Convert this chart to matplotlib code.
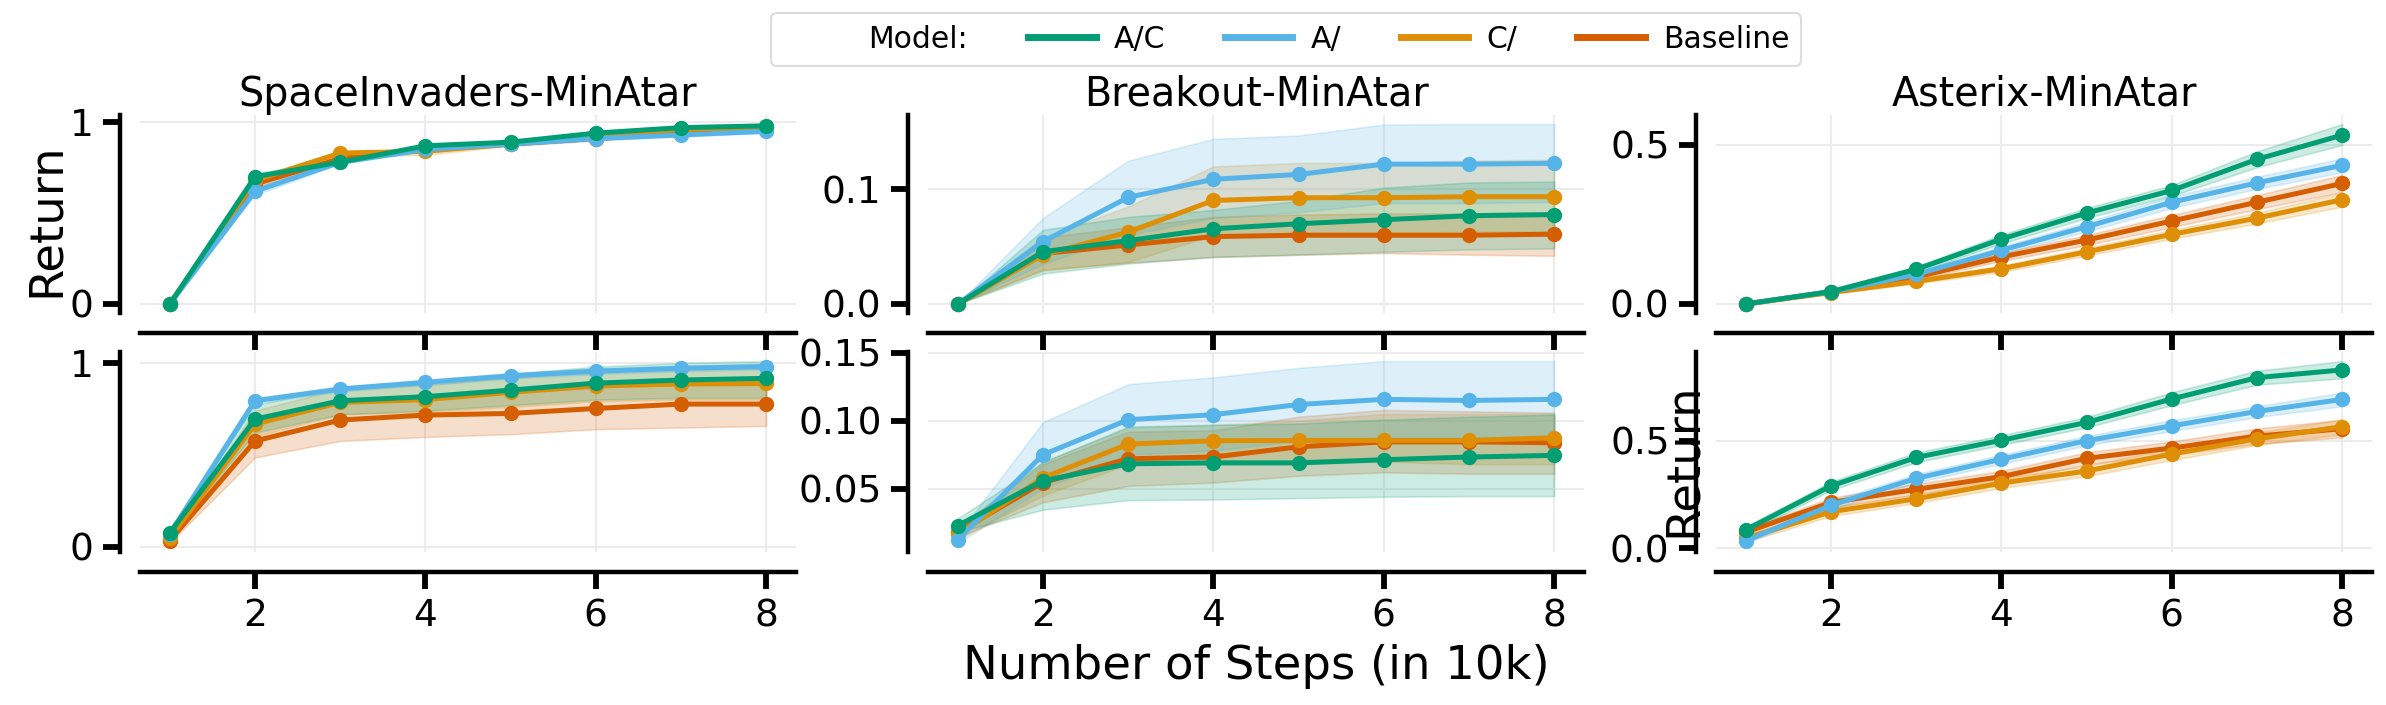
import matplotlib
matplotlib.use("Agg")
import matplotlib.pyplot as plt
from matplotlib.lines import Line2D

# ----------------------------------------------------------------------
# data
# ----------------------------------------------------------------------
STEPS = [1, 2, 3, 4, 5, 6, 7, 8]
MODELS = ["A/C", "A/", "C/", "Baseline"]
COLORS = ["#029e73", "#56b4e9", "#de8f05", "#d55e00"]
GAMES = ["SpaceInvaders-MinAtar", "Breakout-MinAtar", "Asterix-MinAtar"]

# SpaceInvaders, top row
si_top_ac    = [0.0, 0.70, 0.78, 0.87, 0.89, 0.94, 0.97, 0.98]
si_top_ac_lo = [0.0, 0.68, 0.77, 0.86, 0.88, 0.93, 0.96, 0.97]
si_top_ac_hi = [0.0, 0.72, 0.79, 0.88, 0.90, 0.95, 0.98, 0.99]
si_top_a     = [0.0, 0.62, 0.78, 0.85, 0.88, 0.91, 0.93, 0.95]
si_top_a_lo  = [0.0, 0.60, 0.77, 0.84, 0.87, 0.90, 0.92, 0.94]
si_top_a_hi  = [0.0, 0.64, 0.80, 0.86, 0.89, 0.92, 0.94, 0.96]
si_top_c     = [0.0, 0.68, 0.83, 0.84, 0.88, 0.93, 0.96, 0.97]
si_top_c_lo  = [0.0, 0.66, 0.81, 0.82, 0.87, 0.92, 0.95, 0.96]
si_top_c_hi  = [0.0, 0.70, 0.84, 0.85, 0.89, 0.94, 0.97, 0.98]
si_top_b     = [0.0, 0.66, 0.80, 0.85, 0.88, 0.91, 0.94, 0.96]
si_top_b_lo  = [0.0, 0.64, 0.79, 0.84, 0.87, 0.90, 0.93, 0.95]
si_top_b_hi  = [0.0, 0.68, 0.81, 0.86, 0.89, 0.92, 0.95, 0.97]

# SpaceInvaders, bottom row
si_bot_ac    = [0.075, 0.694, 0.794, 0.816, 0.852, 0.890, 0.907, 0.916]
si_bot_ac_lo = [0.060, 0.620, 0.720, 0.740, 0.770, 0.800, 0.810, 0.810]
si_bot_ac_hi = [0.090, 0.770, 0.870, 0.900, 0.940, 0.980, 1.000, 1.010]
si_bot_a     = [0.070, 0.794, 0.858, 0.894, 0.930, 0.955, 0.971, 0.980]
si_bot_a_lo  = [0.060, 0.780, 0.845, 0.880, 0.915, 0.940, 0.955, 0.965]
si_bot_a_hi  = [0.080, 0.810, 0.870, 0.910, 0.945, 0.970, 0.985, 0.995]
si_bot_c     = [0.047, 0.667, 0.785, 0.800, 0.840, 0.875, 0.885, 0.888]
si_bot_c_lo  = [0.030, 0.600, 0.720, 0.730, 0.760, 0.790, 0.800, 0.800]
si_bot_c_hi  = [0.060, 0.740, 0.860, 0.880, 0.920, 0.960, 0.970, 0.980]
si_bot_b     = [0.033, 0.575, 0.689, 0.716, 0.725, 0.752, 0.776, 0.776]
si_bot_b_lo  = [0.020, 0.485, 0.575, 0.597, 0.612, 0.639, 0.648, 0.657]
si_bot_b_hi  = [0.050, 0.665, 0.800, 0.830, 0.840, 0.865, 0.895, 0.895]

# Breakout, top row
br_top_ac    = [0.0, 0.0456, 0.0553, 0.0656, 0.0700, 0.0735, 0.0770, 0.0780]
br_top_ac_lo = [0.0, 0.0265, 0.0353, 0.0410, 0.0430, 0.0455, 0.0476, 0.0485]
br_top_ac_hi = [0.0, 0.0647, 0.0760, 0.0820, 0.0900, 0.1015, 0.1060, 0.1068]
br_top_a     = [0.0, 0.0544, 0.0930, 0.1088, 0.1130, 0.1220, 0.1220, 0.1227]
br_top_a_lo  = [0.0, 0.0350, 0.0600, 0.0750, 0.0800, 0.0880, 0.0880, 0.0890]
br_top_a_hi  = [0.0, 0.0750, 0.1250, 0.1440, 0.1470, 0.1565, 0.1570, 0.1570]
br_top_c     = [0.0, 0.0430, 0.0627, 0.0903, 0.0927, 0.0927, 0.0936, 0.0936]
br_top_c_lo  = [0.0, 0.0290, 0.0367, 0.0600, 0.0620, 0.0620, 0.0630, 0.0630]
br_top_c_hi  = [0.0, 0.0580, 0.0850, 0.1200, 0.1230, 0.1230, 0.1250, 0.1260]
br_top_b     = [0.0, 0.0440, 0.0515, 0.0588, 0.0600, 0.0600, 0.0600, 0.0609]
br_top_b_lo  = [0.0, 0.0300, 0.0360, 0.0410, 0.0430, 0.0444, 0.0430, 0.0420]
br_top_b_hi  = [0.0, 0.0580, 0.0670, 0.0760, 0.0780, 0.0790, 0.0790, 0.0800]

# Breakout, bottom row
br_bot_ac    = [0.0228, 0.0558, 0.0683, 0.0690, 0.0690, 0.0713, 0.0733, 0.0745]
br_bot_ac_lo = [0.0180, 0.0345, 0.0415, 0.0420, 0.0430, 0.0440, 0.0445, 0.0445]
br_bot_ac_hi = [0.0280, 0.0695, 0.0958, 0.0970, 0.0980, 0.1008, 0.1030, 0.1045]
br_bot_a     = [0.0125, 0.0750, 0.1008, 0.1045, 0.1120, 0.1158, 0.1150, 0.1158]
br_bot_a_lo  = [0.0100, 0.0500, 0.0750, 0.0780, 0.0850, 0.0880, 0.0880, 0.0880]
br_bot_a_hi  = [0.0160, 0.0990, 0.1270, 0.1320, 0.1390, 0.1440, 0.1440, 0.1440]
br_bot_c     = [0.0165, 0.0580, 0.0828, 0.0853, 0.0855, 0.0855, 0.0855, 0.0875]
br_bot_c_lo  = [0.0130, 0.0450, 0.0680, 0.0680, 0.0680, 0.0700, 0.0680, 0.0680]
br_bot_c_hi  = [0.0200, 0.0700, 0.0950, 0.0970, 0.1000, 0.1050, 0.1050, 0.1050]
br_bot_b     = [0.0180, 0.0545, 0.0720, 0.0733, 0.0808, 0.0845, 0.0845, 0.0838]
br_bot_b_lo  = [0.0140, 0.0400, 0.0520, 0.0545, 0.0595, 0.0620, 0.0610, 0.0610]
br_bot_b_hi  = [0.0220, 0.0680, 0.0920, 0.0930, 0.1030, 0.1080, 0.1070, 0.1060]

# Asterix, top row
as_top_ac    = [0.0, 0.039, 0.109, 0.204, 0.286, 0.357, 0.455, 0.531]
as_top_ac_lo = [0.0, 0.034, 0.100, 0.190, 0.270, 0.340, 0.430, 0.500]
as_top_ac_hi = [0.0, 0.044, 0.118, 0.218, 0.302, 0.374, 0.480, 0.566]
as_top_a     = [0.0, 0.039, 0.093, 0.169, 0.243, 0.320, 0.381, 0.436]
as_top_a_lo  = [0.0, 0.035, 0.085, 0.158, 0.228, 0.302, 0.362, 0.414]
as_top_a_hi  = [0.0, 0.043, 0.101, 0.180, 0.258, 0.338, 0.400, 0.458]
as_top_c     = [0.0, 0.036, 0.071, 0.111, 0.164, 0.219, 0.270, 0.328]
as_top_c_lo  = [0.0, 0.032, 0.064, 0.101, 0.152, 0.205, 0.253, 0.306]
as_top_c_hi  = [0.0, 0.040, 0.078, 0.121, 0.176, 0.233, 0.287, 0.350]
as_top_b     = [0.0, 0.039, 0.085, 0.148, 0.201, 0.261, 0.320, 0.379]
as_top_b_lo  = [0.0, 0.035, 0.077, 0.135, 0.185, 0.242, 0.298, 0.352]
as_top_b_hi  = [0.0, 0.043, 0.093, 0.161, 0.217, 0.280, 0.342, 0.406]

# Asterix, bottom row
as_bot_ac    = [0.086, 0.290, 0.422, 0.502, 0.585, 0.694, 0.793, 0.829]
as_bot_ac_lo = [0.070, 0.270, 0.400, 0.480, 0.562, 0.665, 0.760, 0.790]
as_bot_ac_hi = [0.100, 0.310, 0.445, 0.525, 0.610, 0.725, 0.825, 0.870]
as_bot_a     = [0.035, 0.200, 0.325, 0.414, 0.500, 0.569, 0.636, 0.692]
as_bot_a_lo  = [0.025, 0.180, 0.305, 0.393, 0.478, 0.545, 0.610, 0.660]
as_bot_a_hi  = [0.045, 0.220, 0.345, 0.435, 0.522, 0.595, 0.660, 0.724]
as_bot_c     = [0.046, 0.170, 0.230, 0.303, 0.359, 0.438, 0.509, 0.565]
as_bot_c_lo  = [0.030, 0.150, 0.210, 0.280, 0.335, 0.410, 0.480, 0.530]
as_bot_c_hi  = [0.060, 0.190, 0.250, 0.326, 0.383, 0.466, 0.538, 0.600]
as_bot_b     = [0.075, 0.213, 0.274, 0.333, 0.418, 0.466, 0.521, 0.556]
as_bot_b_lo  = [0.060, 0.190, 0.250, 0.305, 0.390, 0.435, 0.485, 0.515]
as_bot_b_hi  = [0.090, 0.235, 0.300, 0.360, 0.446, 0.497, 0.557, 0.597]

# panel -> per-model (mean, lo, hi), models in MODELS order
PANELS = [
    [
        [(si_top_ac, si_top_ac_lo, si_top_ac_hi), (si_top_a, si_top_a_lo, si_top_a_hi),
         (si_top_c, si_top_c_lo, si_top_c_hi), (si_top_b, si_top_b_lo, si_top_b_hi)],
        [(br_top_ac, br_top_ac_lo, br_top_ac_hi), (br_top_a, br_top_a_lo, br_top_a_hi),
         (br_top_c, br_top_c_lo, br_top_c_hi), (br_top_b, br_top_b_lo, br_top_b_hi)],
        [(as_top_ac, as_top_ac_lo, as_top_ac_hi), (as_top_a, as_top_a_lo, as_top_a_hi),
         (as_top_c, as_top_c_lo, as_top_c_hi), (as_top_b, as_top_b_lo, as_top_b_hi)],
    ],
    [
        [(si_bot_ac, si_bot_ac_lo, si_bot_ac_hi), (si_bot_a, si_bot_a_lo, si_bot_a_hi),
         (si_bot_c, si_bot_c_lo, si_bot_c_hi), (si_bot_b, si_bot_b_lo, si_bot_b_hi)],
        [(br_bot_ac, br_bot_ac_lo, br_bot_ac_hi), (br_bot_a, br_bot_a_lo, br_bot_a_hi),
         (br_bot_c, br_bot_c_lo, br_bot_c_hi), (br_bot_b, br_bot_b_lo, br_bot_b_hi)],
        [(as_bot_ac, as_bot_ac_lo, as_bot_ac_hi), (as_bot_a, as_bot_a_lo, as_bot_a_hi),
         (as_bot_c, as_bot_c_lo, as_bot_c_hi), (as_bot_b, as_bot_b_lo, as_bot_b_hi)],
    ],
]

XTICKS = [2, 4, 6, 8]
YTICKS = [
    [[0, 1], [0.0, 0.1], [0.0, 0.5]],
    [[0, 1], [0.05, 0.10, 0.15], [0.0, 0.5]],
]

# ----------------------------------------------------------------------
# style
# ----------------------------------------------------------------------
plt.rcParams["font.family"] = ["DejaVu Sans"]

W, H, DPI = 2386, 705, 100
TICK_FS = 27
TITLE_FS = 28.5
LABEL_FS = 33.5
LEGEND_FS = 21.5

fig = plt.figure(figsize=(W / DPI, H / DPI), dpi=DPI)

col_left = [140, 928, 1716]
ax_w = 656
row_box = [(115, 313), (352, 552)]  # (top, bottom) in pixels from the top

draw_order = [3, 2, 1, 0]  # Baseline underneath, A/C on top

axes = []
for r in range(2):
    row_axes = []
    for c in range(3):
        top, bot = row_box[r]
        ax = fig.add_axes([col_left[c] / W, 1 - bot / H, ax_w / W, (bot - top) / H])
        for m in draw_order:
            mean, lo, hi = PANELS[r][c][m]
            ax.fill_between(STEPS, lo, hi, color=COLORS[m], alpha=0.2, lw=1.2)
            ax.plot(STEPS, mean, color=COLORS[m], lw=3.6, marker="o", ms=10,
                    solid_capstyle="round")
        ax.set_xticks(XTICKS)
        ax.set_yticks(YTICKS[r][c])
        ax.grid(True, color="#ececec", lw=1.5)
        ax.set_axisbelow(True)
        for side in ("top", "right"):
            ax.spines[side].set_visible(False)
        for side in ("left", "bottom"):
            ax.spines[side].set_position(("outward", 14.4))
            ax.spines[side].set_linewidth(3.2)
        ax.tick_params(axis="both", length=12, width=4.2, pad=7, labelsize=TICK_FS)
        if r == 0:
            ax.tick_params(axis="x", labelbottom=False)
            ax.set_title(GAMES[c], fontsize=TITLE_FS, pad=2.5)
        row_axes.append(ax)
    axes.append(row_axes)

axes[0][0].set_ylabel("Return", fontsize=LABEL_FS)
axes[0][0].yaxis.set_label_coords(-0.108, 0.47)
axes[1][2].set_ylabel("Return", fontsize=LABEL_FS)
axes[1][2].yaxis.set_label_coords(-0.016, 0.46)
axes[1][1].set_xlabel("Number of Steps (in 10k)", fontsize=LABEL_FS)
axes[1][1].xaxis.set_label_coords(0.5, -0.46)

handles = [Line2D([], [], color="none")]
labels = ["Model:"]
for m in range(4):
    handles.append(Line2D([], [], color=COLORS[m], lw=5))
    labels.append(MODELS[m])
leg = fig.legend(handles, labels, loc="upper center", ncol=5,
                 bbox_to_anchor=(1286 / W, 1 - 13 / H), borderaxespad=0,
                 fontsize=LEGEND_FS, handlelength=2.27, handletextpad=0.6,
                 columnspacing=2.0, borderpad=0.4, frameon=True, fancybox=True)
leg.get_frame().set_edgecolor("#d4d4d4")
leg.get_frame().set_linewidth(1.5)

fig.savefig("out.png", dpi=DPI)
